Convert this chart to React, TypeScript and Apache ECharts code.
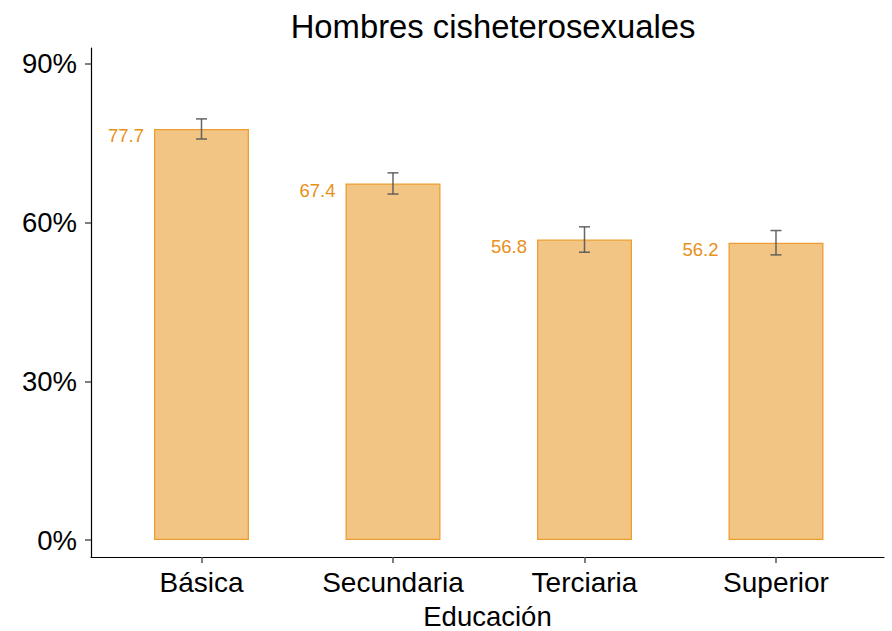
import React, { useEffect, useRef } from "react";
import * as echarts from "echarts";

const categories = ["Básica", "Secundaria", "Terciaria", "Superior"];
const values = [77.7, 67.4, 56.8, 56.2];
const errLow = [75.8, 65.4, 54.4, 53.9];
const errHigh = [79.6, 69.4, 59.2, 58.5];
const yTicks = [0, 30, 60, 90];
const xPositions = [1, 2, 3, 4];

export default function App() {
  const ref = useRef<HTMLDivElement>(null);
  useEffect(() => {
    if (!ref.current) return;
    const chart = echarts.init(ref.current, null, { renderer: "svg" });
    const font = "Liberation Sans, Arial, Helvetica, sans-serif";
    chart.setOption({
      animation: false,
      textStyle: { fontFamily: font },
      title: {
        text: "Hombres cisheterosexuales",
        left: 488,
        textAlign: "center",
        top: 5,
        textStyle: { fontSize: 32.8, fontWeight: "normal", color: "#000", fontFamily: font },
      },
      grid: { left: 91, right: 8, top: 48, bottom: 74, containLabel: false, outerBoundsMode: "none" },
      xAxis: {
        type: "value",
        min: 0.423,
        max: 4.564,
        splitLine: { show: false },
        axisLine: { show: true, onZero: false, lineStyle: { color: "#000", width: 1.2 } },
        axisTick: { show: true, customValues: xPositions, length: 6, lineStyle: { color: "#555", width: 1.5 } },
        axisLabel: {
          customValues: xPositions,
          formatter: (v: number) => categories[Math.round(v) - 1] ?? "",
          fontSize: 28,
          color: "#000",
          margin: 11.5,
          fontFamily: font,
        },
        name: "Educación",
        nameLocation: "middle",
        nameGap: 47,
        nameTextStyle: { fontSize: 27.5, lineHeight: 24, color: "#000", fontFamily: font },
      },
      yAxis: {
        type: "value",
        min: -3.2,
        max: 93,
        splitLine: { show: false },
        axisLine: { show: true, onZero: false, lineStyle: { color: "#000", width: 1.2 } },
        axisTick: { show: true, customValues: yTicks, length: 6, lineStyle: { color: "#555", width: 1.5 } },
        axisLabel: {
          customValues: yTicks,
          formatter: "{value}%",
          fontSize: 27.5,
          color: "#000",
          margin: 14,
          fontFamily: font,
        },
      },
      series: [
        {
          type: "bar",
          data: values.map((v, i) => [xPositions[i], v]),
          barWidth: 95,
          itemStyle: { color: "#F2C585", borderColor: "#EC9E33", borderWidth: 1.3 },
          label: {
            show: true,
            position: [-10, 7],
            align: "right",
            verticalAlign: "middle",
            formatter: (p: any) => p.value[1].toFixed(1),
            fontSize: 18.5,
            color: "#E8901A",
            fontFamily: font,
          },
        },
        {
          type: "custom",
          data: errLow.map((l, i) => [xPositions[i], l, errHigh[i]]),
          renderItem: (params: any, api: any) => {
            const x = api.value(0);
            const lo = api.coord([x, api.value(1)]);
            const hi = api.coord([x, api.value(2)]);
            const hw = 5.5;
            const style = { stroke: "#555", lineWidth: 1.5, opacity: 0.9 };
            return {
              type: "group",
              children: [
                { type: "line", shape: { x1: lo[0], y1: lo[1], x2: hi[0], y2: hi[1] }, style },
                { type: "line", shape: { x1: lo[0] - hw, y1: lo[1], x2: lo[0] + hw, y2: lo[1] }, style },
                { type: "line", shape: { x1: hi[0] - hw, y1: hi[1], x2: hi[0] + hw, y2: hi[1] }, style },
              ],
            };
          },
          z: 5,
        },
      ],
    });
    return () => chart.dispose();
  }, []);
  return <div ref={ref} style={{ width: 892, height: 631, position: "absolute", left: 0, top: 0 }} />;
}
